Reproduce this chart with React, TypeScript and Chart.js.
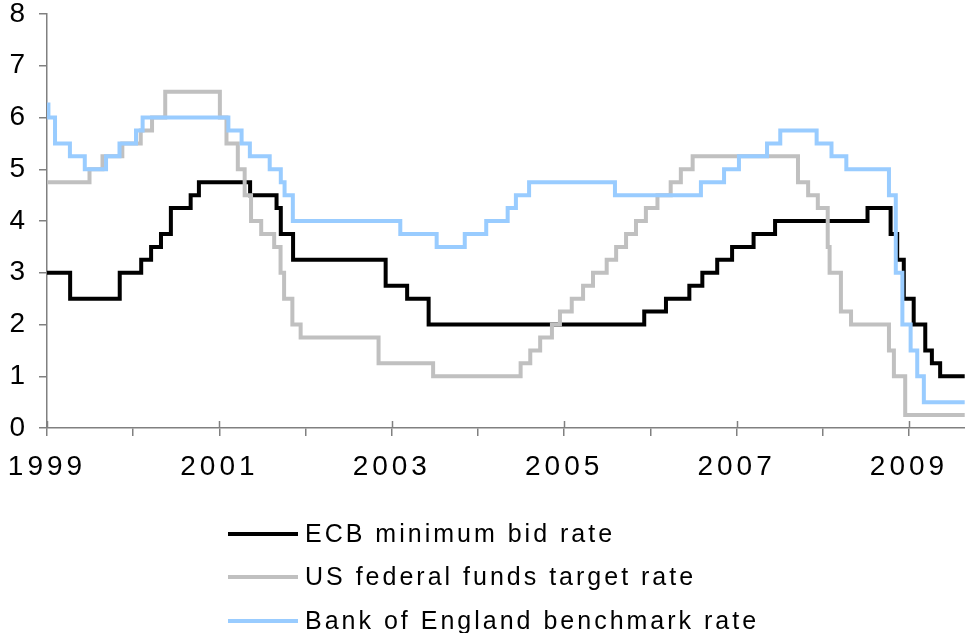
import React, { useEffect, useRef } from "react";
import { Chart, registerables } from "chart.js";

Chart.register(...registerables);

// ---------- data (dates of rate changes, rate from that date on) ----------
const ECB_DATES = [
  "1999-01-01", "1999-04-09", "1999-11-05", "2000-02-04", "2000-03-17", "2000-04-28",
  "2000-06-09", "2000-09-01", "2000-10-06", "2001-05-11", "2001-08-31", "2001-09-18",
  "2001-11-09", "2002-12-06", "2003-03-07", "2003-06-06", "2005-12-06", "2006-03-08",
  "2006-06-15", "2006-08-09", "2006-10-11", "2006-12-13", "2007-03-14", "2007-06-13",
  "2008-07-09", "2008-10-15", "2008-11-12", "2008-12-10", "2009-01-21", "2009-03-11",
  "2009-04-08", "2009-05-13", "2009-08-25",
];
const ECB_RATES = [
  3.0, 2.5, 3.0, 3.25, 3.5, 3.75, 4.25, 4.5, 4.75, 4.5, 4.25, 3.75, 3.25, 2.75, 2.5, 2.0,
  2.25, 2.5, 2.75, 3.0, 3.25, 3.5, 3.75, 4.0, 4.25, 3.75, 3.25, 2.5, 2.0, 1.5, 1.25, 1.0,
  1.0,
];

const US_DATES = [
  "1999-01-01", "1999-06-30", "1999-08-24", "1999-11-16", "2000-02-02", "2000-03-21",
  "2000-05-16", "2001-01-03", "2001-01-31", "2001-03-20", "2001-04-18", "2001-05-15",
  "2001-06-27", "2001-08-21", "2001-09-17", "2001-10-02", "2001-11-06", "2001-12-11",
  "2002-11-06", "2003-06-25", "2004-06-30", "2004-08-10", "2004-09-21", "2004-11-10",
  "2004-12-14", "2005-02-02", "2005-03-22", "2005-05-03", "2005-06-30", "2005-08-09",
  "2005-09-20", "2005-11-01", "2005-12-13", "2006-01-31", "2006-03-28", "2006-05-10",
  "2006-06-29", "2007-09-18", "2007-10-31", "2007-12-11", "2008-01-22", "2008-01-30",
  "2008-03-18", "2008-04-30", "2008-10-08", "2008-10-29", "2008-12-16", "2009-08-25",
];
const US_RATES = [
  4.75, 5.0, 5.25, 5.5, 5.75, 6.0, 6.5, 6.0, 5.5, 5.0, 4.5, 4.0, 3.75, 3.5, 3.0, 2.5, 2.0,
  1.75, 1.25, 1.0, 1.25, 1.5, 1.75, 2.0, 2.25, 2.5, 2.75, 3.0, 3.25, 3.5, 3.75, 4.0, 4.25,
  4.5, 4.75, 5.0, 5.25, 4.75, 4.5, 4.25, 3.5, 3.0, 2.25, 2.0, 1.5, 1.0, 0.25, 0.25,
];

const BOE_DATES = [
  "1999-01-01", "1999-01-07", "1999-02-04", "1999-04-08", "1999-06-10", "1999-09-08",
  "1999-11-04", "2000-01-13", "2000-02-10", "2001-02-08", "2001-04-05", "2001-05-10",
  "2001-08-02", "2001-09-18", "2001-10-04", "2001-11-08", "2003-02-06", "2003-07-10",
  "2003-11-06", "2004-02-05", "2004-05-06", "2004-06-10", "2004-08-05", "2005-08-04",
  "2006-08-03", "2006-11-09", "2007-01-11", "2007-05-10", "2007-07-05", "2007-12-06",
  "2008-02-07", "2008-04-10", "2008-10-08", "2008-11-06", "2008-12-04", "2009-01-08",
  "2009-02-05", "2009-03-05", "2009-08-25",
];
const BOE_RATES = [
  6.25, 6.0, 5.5, 5.25, 5.0, 5.25, 5.5, 5.75, 6.0, 5.75, 5.5, 5.25, 5.0, 4.75, 4.5, 4.0,
  3.75, 3.5, 3.75, 4.0, 4.25, 4.5, 4.75, 4.5, 4.75, 5.0, 5.25, 5.5, 5.75, 5.5, 5.25, 5.0,
  4.5, 3.0, 2.0, 1.5, 1.0, 0.5, 0.5,
];

const SERIES_LABELS = [
  "ECB minimum bid rate",
  "US federal funds target rate",
  "Bank of England benchmark rate",
];
const SERIES_COLORS = ["#000000", "#C0C0C0", "#99CCFF"];

const X_TICK_YEARS = [1999, 2000, 2001, 2002, 2003, 2004, 2005, 2006, 2007, 2008, 2009];
const X_TICK_LABELS = ["1999", "", "2001", "", "2003", "", "2005", "", "2007", "", "2009"];
const X_MIN = 1999;
const X_MAX = 2009.65;
const Y_MIN = 0;
const Y_MAX = 8;

const FONT_FAMILY = "'Liberation Sans', Arial, sans-serif";

function toYear(d: string): number {
  const [y, m, day] = d.split("-").map(Number);
  const start = Date.UTC(y, 0, 1);
  const end = Date.UTC(y + 1, 0, 1);
  return y + (Date.UTC(y, m - 1, day) - start) / (end - start);
}

function toPoints(dates: string[], rates: number[]) {
  return dates.map((d, i) => ({ x: toYear(d), y: rates[i] }));
}

const legendPlugin = {
  id: "customLegend",
  beforeDraw(chart: any) {
    (chart.ctx as any).letterSpacing = "4px";
  },
  afterDraw(chart: any) {
    const ctx = chart.ctx;
    ctx.save();
    // major year ticks cross the axis line
    const xs = chart.scales.x;
    ctx.strokeStyle = "#808080";
    ctx.lineWidth = 1.5;
    X_TICK_YEARS.forEach((v, i) => {
      if (!X_TICK_LABELS[i]) return;
      const px = Math.round(xs.getPixelForValue(v)) + 0.5;
      ctx.beginPath();
      ctx.moveTo(px, xs.top - 7);
      ctx.lineTo(px, xs.top);
      ctx.stroke();
    });
    (ctx as any).letterSpacing = "3px";
    ctx.font = "25px " + FONT_FAMILY;
    ctx.textBaseline = "middle";
    ctx.textAlign = "left";
    const rows = [534, 577, 621];
    chart.data.datasets.forEach((ds: any, i: number) => {
      const y = rows[i];
      ctx.strokeStyle = ds.borderColor;
      ctx.lineWidth = 4;
      ctx.lineCap = "butt";
      ctx.beginPath();
      ctx.moveTo(228, y);
      ctx.lineTo(298, y);
      ctx.stroke();
      ctx.fillStyle = "#000";
      ctx.fillText(ds.label, 305, y + 1);
    });
    ctx.restore();
    (ctx as any).letterSpacing = "0px";
  },
};

export default function App() {
  const ref = useRef<HTMLCanvasElement>(null);
  useEffect(() => {
    if (!ref.current) return;
    const allDates = [ECB_DATES, US_DATES, BOE_DATES];
    const allRates = [ECB_RATES, US_RATES, BOE_RATES];
    const chart = new Chart(ref.current, {
      type: "line",
      data: {
        datasets: SERIES_LABELS.map((label, i) => ({
          label,
          data: toPoints(allDates[i], allRates[i]),
          borderColor: SERIES_COLORS[i],
          backgroundColor: SERIES_COLORS[i],
          borderWidth: 4,
          pointRadius: 0,
          stepped: "before" as const,
          fill: false,
          order: 3 - i,
        })),
      },
      options: {
        animation: false,
        responsive: false,
        layout: { padding: { top: 14, right: 0, bottom: 115, left: 0 } },
        plugins: {
          legend: { display: false },
          tooltip: { enabled: false },
        },
        scales: {
          x: {
            type: "linear",
            min: X_MIN,
            max: X_MAX,
            afterBuildTicks: (s: any) => {
              s.ticks = X_TICK_YEARS.map((v) => ({ value: v }));
            },
            afterFit: (s: any) => {
              s.height = 90;
              s.paddingLeft = 0;
              s.paddingRight = 0;
            },
            ticks: {
              autoSkip: false,
              maxRotation: 0,
              padding: 14,
              color: "#000",
              font: { size: 28, family: FONT_FAMILY },
              callback: (v: any) => {
                const idx = X_TICK_YEARS.indexOf(Number(v));
                return idx >= 0 ? X_TICK_LABELS[idx] : "";
              },
            },
            grid: {
              drawOnChartArea: false,
              drawTicks: true,
              tickLength: 8,
              color: "#808080",
              lineWidth: 1.5,
            },
            border: { color: "#808080", width: 1.5 },
          },
          y: {
            type: "linear",
            min: Y_MIN,
            max: Y_MAX,
            afterFit: (s: any) => {
              s.width = 47;
              s.paddingTop = 0;
              s.paddingBottom = 0;
            },
            ticks: {
              stepSize: 1,
              padding: 10,
              color: "#000",
              font: { size: 28, family: FONT_FAMILY },
            },
            grid: {
              drawOnChartArea: false,
              drawTicks: true,
              tickLength: 8,
              color: "#808080",
              lineWidth: 1.5,
            },
            border: { color: "#808080", width: 1.5 },
          },
        },
      },
      plugins: [legendPlugin],
    });
    return () => chart.destroy();
  }, []);
  return (
    <div style={{ position: "fixed", left: 0, top: 0, width: 965, height: 633, background: "#fff" }}>
      <canvas ref={ref} width={965} height={633} style={{ display: "block" }} />
    </div>
  );
}
